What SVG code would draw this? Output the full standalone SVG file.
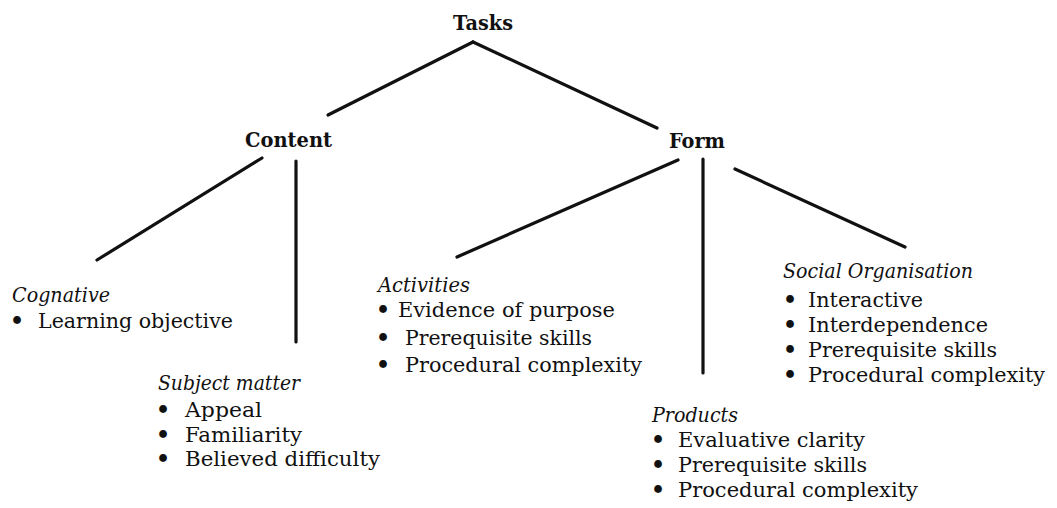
<svg xmlns="http://www.w3.org/2000/svg" width="1057" height="508" viewBox="0 0 1057 508">
<style>
text{font-family:"DejaVu Serif","Liberation Serif",serif;fill:#111;}
.h{font-weight:bold;font-size:21px;}
.t{font-size:21px;}
.i{font-size:21px;font-style:italic;}
.b{font-size:22px;font-weight:bold;text-anchor:middle;}
.c{stroke:#111;stroke-width:3.2;stroke-linecap:round;fill:none;}
</style>
<rect width="1057" height="508" fill="#fff"/>
<g id="connectors">
<line class="c" x1="473" y1="42" x2="328" y2="115"/>
<line class="c" x1="473" y1="42" x2="657" y2="128"/>
<line class="c" x1="262" y1="158" x2="97" y2="260"/>
<line class="c" x1="296" y1="161" x2="296" y2="342"/>
<line class="c" x1="678" y1="160" x2="457" y2="257"/>
<line class="c" x1="703" y1="159" x2="703" y2="373"/>
<line class="c" x1="735" y1="169" x2="905" y2="247"/>
</g>
<g id="tasks"><text class="h" x="453" y="30" textLength="60" lengthAdjust="spacingAndGlyphs">Tasks</text></g>
<g id="content"><text class="h" x="245" y="147" textLength="87" lengthAdjust="spacingAndGlyphs">Content</text></g>
<g id="form"><text class="h" x="669" y="148" textLength="56" lengthAdjust="spacingAndGlyphs">Form</text></g>
<g id="cognative">
<text class="i" x="12" y="302" textLength="98" lengthAdjust="spacingAndGlyphs">Cognative</text>
<text class="b" x="17" y="328">•</text>
<text class="t" x="38" y="328" textLength="195" lengthAdjust="spacingAndGlyphs">Learning objective</text>
</g>
<g id="subject-matter">
<text class="i" x="158" y="390" textLength="142" lengthAdjust="spacingAndGlyphs">Subject matter</text>
<text class="b" x="163" y="417">•</text>
<text class="t" x="185" y="417" textLength="77" lengthAdjust="spacingAndGlyphs">Appeal</text>
<text class="b" x="163" y="442">•</text>
<text class="t" x="185" y="442" textLength="117" lengthAdjust="spacingAndGlyphs">Familiarity</text>
<text class="b" x="163" y="466">•</text>
<text class="t" x="185" y="466" textLength="195" lengthAdjust="spacingAndGlyphs">Believed difficulty</text>
</g>
<g id="activities">
<text class="i" x="378" y="292" textLength="92" lengthAdjust="spacingAndGlyphs">Activities</text>
<text class="b" x="383" y="317">•</text>
<text class="t" x="398" y="317" textLength="217" lengthAdjust="spacingAndGlyphs">Evidence of purpose</text>
<text class="b" x="383" y="345">•</text>
<text class="t" x="405" y="345" textLength="187" lengthAdjust="spacingAndGlyphs">Prerequisite skills</text>
<text class="b" x="383" y="372">•</text>
<text class="t" x="405" y="372" textLength="237" lengthAdjust="spacingAndGlyphs">Procedural complexity</text>
</g>
<g id="social-organisation">
<text class="i" x="783" y="278" textLength="190" lengthAdjust="spacingAndGlyphs">Social Organisation</text>
<text class="b" x="790" y="307">•</text>
<text class="t" x="808" y="307" textLength="115" lengthAdjust="spacingAndGlyphs">Interactive</text>
<text class="b" x="790" y="332">•</text>
<text class="t" x="808" y="332" textLength="180" lengthAdjust="spacingAndGlyphs">Interdependence</text>
<text class="b" x="790" y="357">•</text>
<text class="t" x="808" y="357" textLength="189" lengthAdjust="spacingAndGlyphs">Prerequisite skills</text>
<text class="b" x="790" y="382">•</text>
<text class="t" x="808" y="382" textLength="237" lengthAdjust="spacingAndGlyphs">Procedural complexity</text>
</g>
<g id="products">
<text class="i" x="652" y="422" textLength="86" lengthAdjust="spacingAndGlyphs">Products</text>
<text class="b" x="658" y="447">•</text>
<text class="t" x="678" y="447" textLength="187" lengthAdjust="spacingAndGlyphs">Evaluative clarity</text>
<text class="b" x="658" y="472">•</text>
<text class="t" x="678" y="472" textLength="189" lengthAdjust="spacingAndGlyphs">Prerequisite skills</text>
<text class="b" x="658" y="497">•</text>
<text class="t" x="678" y="497" textLength="240" lengthAdjust="spacingAndGlyphs">Procedural complexity</text>
</g>
</svg>
